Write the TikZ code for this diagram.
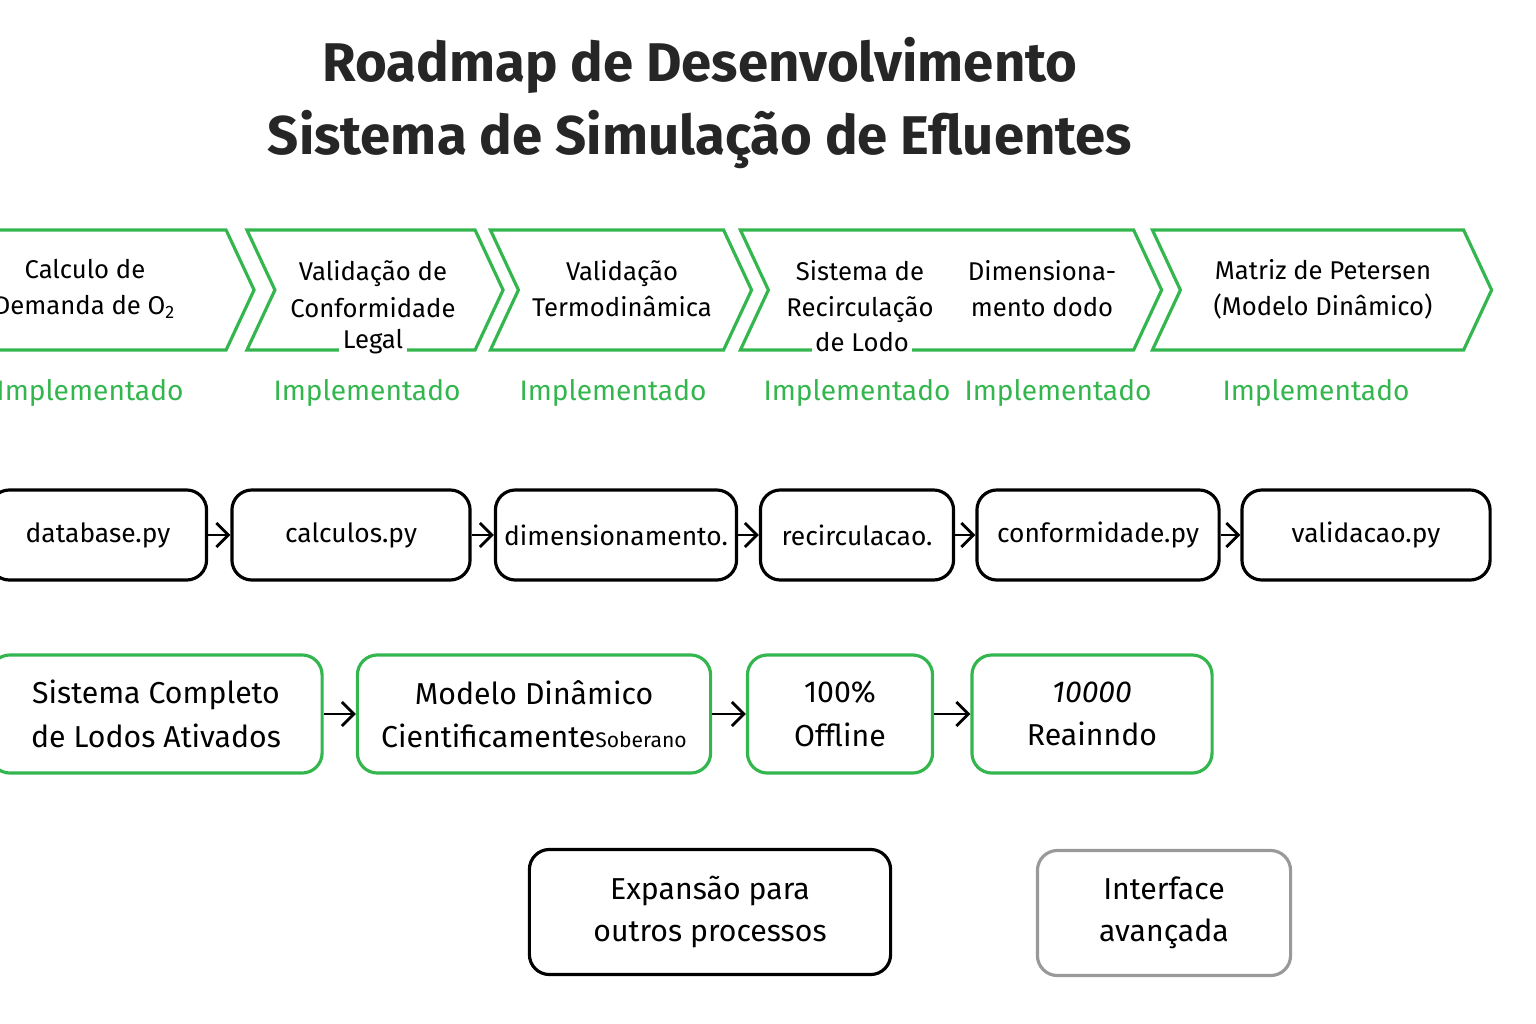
\documentclass[tikz,border=0pt]{standalone}
\usepackage{fontspec}
\setmainfont{Fira Sans}
\usetikzlibrary{positioning, arrows.meta, shapes.symbols}
\definecolor{okgreen}{RGB}{52,182,78}
\begin{document}
\begin{tikzpicture}[
    x=0.01cm, y=-0.01cm,
    stage/.style = {signal, signal to=east, signal from=west, signal pointer angle=130,
      draw=okgreen, line width=0.9pt, minimum height=1.2cm, inner sep=0pt},
    stxt/.style = {align=center, font=\fontsize{7.3}{10.3}\selectfont},
    done/.style = {text=okgreen, font=\fontsize{8}{10}\selectfont},
    module/.style = {draw, rounded corners=2mm, line width=0.9pt, minimum width=#1,
      minimum height=0.9cm, inner sep=1pt, font=\fontsize{7.5}{10}\selectfont},
    module/.default=2.4cm,
    goal/.style = {draw=okgreen, rounded corners=2mm, line width=0.9pt, minimum width=#1,
      minimum height=1.18cm, align=center, inner sep=1pt, font=\fontsize{8.6}{12.3}\selectfont},
    next/.style = {draw, rounded corners=2mm, line width=0.9pt, align=center,
      minimum height=1.25cm, font=\fontsize{8.6}{12}\selectfont},
    >={Straight Barb[length=1.2mm]}
  ]
  \useasboundingbox (0,0) rectangle (1536,1024);

  % titulo
  \node[font=\fontsize{15.5}{20.5}\selectfont\bfseries, text=black!85, align=center] (title) at (700,103)
    {Roadmap de Desenvolvimento\\Sistema de Simulação de Efluentes};

  % etapas
  \node[stage, signal from=nowhere, minimum width=2.76cm] (S1) at (102,290) {};
  \node[stage, minimum width=2.56cm] (S2) at (375,290) {};
  \node[stage, minimum width=2.61cm] (S3) at (621,290) {};
  \node[stage, minimum width=4.21cm] (S4) at (951,290) {};
  \node[stage, minimum width=3.39cm] (S5) at (1322,290) {};

  \node[stxt] (T1) at (85,289) {Calculo de\\Demanda de O\textsubscript{2}};
  \node[stxt] (T2) at (373,307) {Validação de\\Conformidade\\\phantom{L}};
  \node[stxt, fill=white, inner sep=1pt] (T2b) at (373,342) {Legal};
  \node[stxt] (T3) at (622,289) {Validação\\Termodinâmica};
  \node[stxt] (T4) at (860,307) {Sistema de\\Recirculação\\\phantom{d}};
  \node[stxt, fill=white, inner sep=1pt] (T4b) at (862,342) {de Lodo};
  \node[stxt] (T5) at (1042,289) {Dimensiona-\\mento dodo};
  \node[stxt] (T6) at (1323,289) {Matriz de Petersen\\(Modelo Dinâmico)};

  \foreach \x/\n in {90/1, 367/2, 613/3, 857/4, 1058/5, 1316/6}
    \node[done] (D\n) at (\x,393) {Implementado};

  % modulos
  \node[module=2.17cm] (M1) at (98,535) {database.py};
  \node[module=2.38cm] (M2) at (351,535) {calculos.py};
  \node[module=2.41cm] (M3) at (616,535) {dimensionamento.};
  \node[module=1.93cm] (M4) at (857,535) {recirculacao.};
  \node[module=2.42cm] (M5) at (1098,535) {conformidade.py};
  \node[module=2.48cm] (M6) at (1366,535) {validacao.py};
  \foreach \a/\b in {M1/M2, M2/M3, M3/M4, M4/M5, M5/M6}
    \draw[->, line width=0.8pt] (\a) -- (\b);

  % metas
  \node[goal=3.32cm] (G1) at (156,714) {Sistema Completo\\de Lodos Ativados};
  \node[goal=3.53cm] (G2) at (534,714) {Modelo Dinâmico\\Cientificamente{\fontsize{6}{6}\selectfont Soberano}};
  \node[goal=1.85cm] (G3) at (840,714) {100\%\\Offline};
  \node[goal=2.40cm] (G4) at (1092,714) {{\itshape 10000}\\Reainndo};
  \foreach \a/\b in {G1/G2, G2/G3, G3/G4}
    \draw[->, line width=0.8pt] (\a) -- (\b);

  % proximos passos
  \node[next, minimum width=3.61cm] (N1) at (710,912) {Expansão para\\outros processos};
  \node[next, draw=black!40, minimum width=2.53cm] (N2) at (1164,913) {Interface\\avançada};
\end{tikzpicture}
\end{document}
